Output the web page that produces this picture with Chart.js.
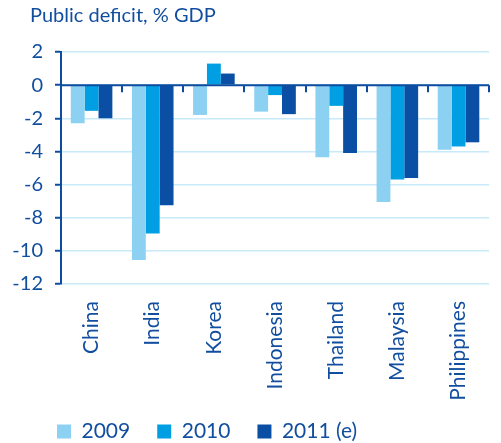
<!DOCTYPE html>
<html><head><meta charset="utf-8">
<script src="https://cdn.jsdelivr.net/npm/chart.js@4"></script>
<style>html,body{margin:0;padding:0;background:#fff}#wrap{width:501px;height:443px}</style>
</head><body><div id="wrap"><canvas id="c" width="501" height="443"></canvas></div>
<script>
const categories = ['China', 'India', 'Korea', 'Indonesia', 'Thailand', 'Malaysia', 'Philippines'];
const values2009 = [-2.3, -10.55, -1.8, -1.6, -4.35, -7.05, -3.9];
const values2010 = [-1.55, -8.95, 1.3, -0.6, -1.25, -5.7, -3.7];
const values2011 = [-2.0, -7.25, 0.7, -1.75, -4.1, -5.6, -3.45];
const seriesLabels = ['2009', '2010', '2011 (e)'];
const yTickValues = [2, 0, -2, -4, -6, -8, -10, -12];

const DARK = '#0d4c9e';
const TEXT = '#124e9f';
const GRID = '#c9eaf9';
const FONT = 'Lato';

const zeroLine = {
  id: 'zeroLine',
  afterLayout(chart) {
    // let the tick labels extend outside the narrow axis boxes without clipping
    chart.scales.y.left = 0;
    chart.scales.x.bottom = chart.height;
  },
  afterDatasetsDraw(chart) {
    const {ctx, scales: {x, y}} = chart;
    const y0 = y.getPixelForValue(0);
    const n = chart.data.labels.length;
    ctx.save();
    ctx.strokeStyle = DARK;
    ctx.lineWidth = 2;
    ctx.beginPath();
    ctx.moveTo(x.left, y0);
    ctx.lineTo(x.right, y0);
    for (let i = 1; i <= n; i++) {
      const px = Math.round(x.left + (x.right - x.left) * i / n);
      ctx.moveTo(px, y0);
      ctx.lineTo(px, y0 + 7);
    }
    ctx.stroke();
    ctx.restore();
  }
};

new Chart(document.getElementById('c'), {
  type: 'bar',
  data: {
    labels: categories,
    datasets: [
      {label: seriesLabels[0], data: values2009, backgroundColor: '#8dd1f2'},
      {label: seriesLabels[1], data: values2010, backgroundColor: '#009fe3'},
      {label: seriesLabels[2], data: values2011, backgroundColor: '#0a4fa3'}
    ]
  },
  options: {
    responsive: false,
    animation: false,
    devicePixelRatio: 1,
    layout: {padding: {left: 30, right: 4, top: 0, bottom: -9}},
    datasets: {bar: {categoryPercentage: 0.68, barPercentage: 1.0}},
    plugins: {
      tooltip: {enabled: false},
      title: {
        display: true, text: 'Public deficit, % GDP', align: 'start', color: TEXT,
        font: {family: FONT, size: 20, weight: 'normal'}, padding: {top: 4, bottom: 24}
      },
      legend: {
        position: 'bottom', align: 'start',
        labels: {
          color: TEXT, boxWidth: 14, boxHeight: 14, padding: 27,
          font: {family: FONT, size: 21}
        }
      }
    },
    scales: {
      x: {
        grid: {display: false, drawTicks: false},
        border: {display: false},
        ticks: {color: TEXT, font: {family: FONT, size: 21}, minRotation: 90, maxRotation: 90, padding: 17, autoSkip: false},
        afterFit(s) { s.height = 110; }
      },
      y: {
        min: -12, max: 2,
        afterBuildTicks(s) { s.ticks = yTickValues.map(v => ({value: v})); },
        grid: {color: GRID, lineWidth: 1.5, tickColor: DARK, tickLength: 6, tickWidth: 2},
        border: {display: true, color: DARK, width: 2},
        ticks: {color: TEXT, font: {family: FONT, size: 20}, padding: 12},
        afterFit(s) { s.width = 31; }
      }
    }
  },
  plugins: [zeroLine]
});
</script></body></html>
